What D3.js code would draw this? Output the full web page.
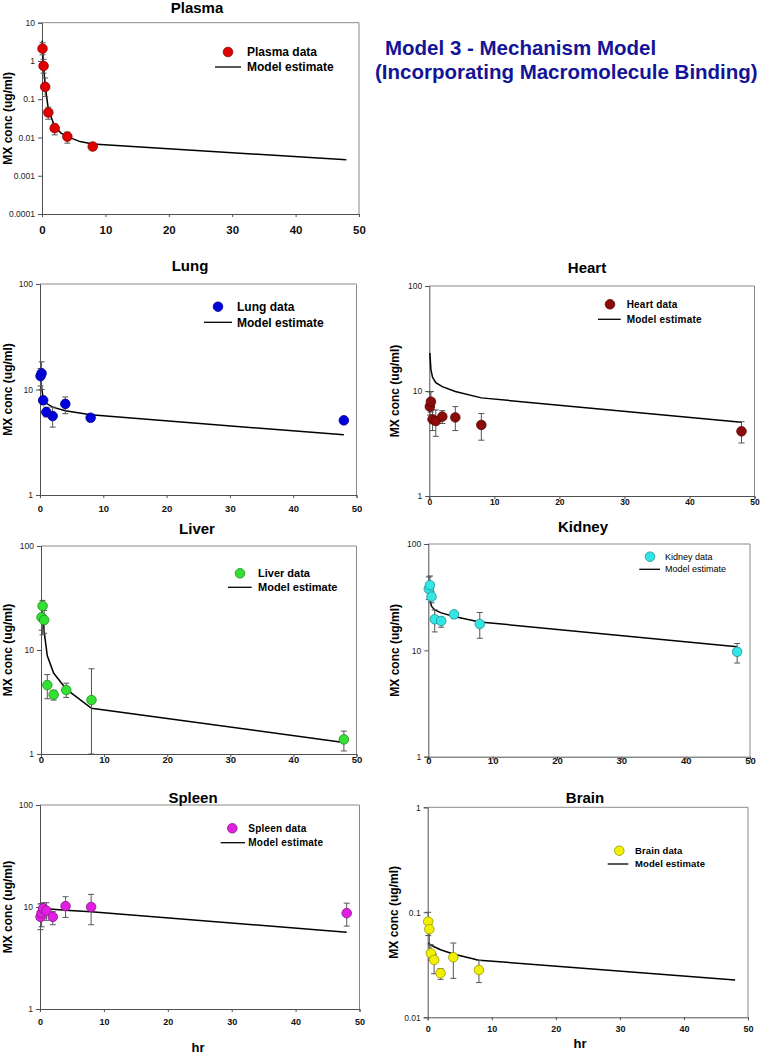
<!DOCTYPE html>
<html><head><meta charset="utf-8">
<script src="https://cdn.jsdelivr.net/npm/d3@7"></script>
<style>body{margin:0;background:#fff}svg{display:block;font-family:"Liberation Sans",Arial,sans-serif}</style>
</head><body><svg id="c" width="761" height="1056"></svg>
<script>
// ---------- DATA ----------
const times = [0.083, 0.25, 0.5, 1, 2, 4, 8, 48];
const xTicks = [0, 10, 20, 30, 40, 50];
const yLabel = "MX conc (ug/ml)";
const xLabel = "hr";
const mainTitle = ["Model 3 - Mechanism Model", "(Incorporating Macromolecule Binding)"];

const plasmaMean  = [2.1, 0.74, 0.21, 0.045, 0.0175, 0.0105, 0.0058];
const plasmaUpper = [3.0, 1.1, 0.36, 0.062, 0.0226, 0.0138, 0.0063];
const plasmaLower = [1.45, 0.48, 0.117, 0.030, 0.0117, 0.0071, 0.0053];
const plasmaModelT = [0.02, 0.083, 0.25, 0.5, 1, 2, 3, 4, 6, 8, 48];
const plasmaModel  = [3.4, 2.0, 0.75, 0.22, 0.055, 0.019, 0.013, 0.0105, 0.0078, 0.0068, 0.0026];

const lungMean  = [13.4, 14.2, 7.9, 6.1, 5.6, 7.3, 5.4, 5.1];
const lungUpper = [15.8, 18.3, 8.6, 6.8, 6.8, 8.5, 5.7, 5.4];
const lungLower = [10.8, 10.0, 7.2, 5.5, 4.4, 5.9, 5.1, 4.8];
const lungModel = [13.0, 10.5, 8.3, 7.4, 6.8, 6.3, 5.75, 3.72];

const heartMean  = [7.1, 7.9, 5.37, 5.18, 5.7, 5.6, 4.75, 4.13];
const heartUpper = [9.8, 9.9, 6.6, 6.6, 6.5, 7.1, 6.1, 5.1];
const heartLower = [5.9, 6.3, 4.2, 3.7, 4.9, 4.2, 3.4, 3.2];
const heartModel = [23.0, 16.0, 13.5, 12.0, 11.0, 9.9, 8.6, 5.03];

const liverMean  = [20.6, 26.5, 19.4, 4.6, 3.72, 4.12, 3.3, 1.38];
const liverUpper = [26.0, 30.0, 24.0, 5.8, 4.1, 4.8, 6.6, 1.66];
const liverLower = [15.5, 14.0, 14.5, 3.4, 3.3, 3.5, 1.0, 1.07];
const liverModel = [25.0, 22.0, 15.0, 8.8, 6.0, 4.2, 2.75, 1.29];

const kidneyMean  = [37.8, 41.0, 32.0, 19.6, 18.9, 21.8, 17.7, 9.7];
const kidneyUpper = [49.0, 50.0, 36.0, 24.0, 20.5, 23.0, 22.7, 11.6];
const kidneyLower = [30.0, 33.0, 28.0, 14.9, 16.5, 20.0, 13.0, 7.6];
const kidneyModel = [35.0, 30.0, 26.0, 24.0, 22.5, 20.8, 18.5, 10.8];

const spleenMean  = [8.0, 8.7, 9.7, 9.2, 8.0, 10.2, 10.0, 8.7];
const spleenUpper = [10.7, 10.8, 11.0, 11.0, 9.0, 12.6, 13.3, 10.9];
const spleenLower = [6.0, 6.4, 7.8, 7.4, 6.7, 7.9, 6.7, 6.5];
const spleenModel = [9.9, 9.8, 9.7, 9.6, 9.5, 9.3, 9.0, 5.65];

const brainMean  = [0.0815, 0.069, 0.0407, 0.0352, 0.0263, 0.0373, 0.0282];
const brainUpper = [0.1, 0.085, 0.049, 0.040, 0.029, 0.051, 0.035];
const brainLower = [0.06, 0.042, 0.035, 0.026, 0.023, 0.0235, 0.0214];
const brainModel = [0.051, 0.050, 0.049, 0.047, 0.044, 0.040, 0.035, 0.0227];

// ---------- LAYOUT ----------
const panels = [
  {name:"Plasma", color:"#e00000", mean:plasmaMean, up:plasmaUpper, lo:plasmaLower, mT:plasmaModelT, m:plasmaModel,
   yTicks:[0.0001,0.001,0.01,0.1,1,10],
   x0:42, x1:359, y0:22.7, y1:214, title:[197,12.5], xTickY:230, xTickFs:11.5, yLabX:8,
   leg:{mx:228,my:52,tx:247,ly:67,l1:215,l2:241,fs:12,w:"bold",ls:0}},
  {name:"Lung", color:"#0000dd", mean:lungMean, up:lungUpper, lo:lungLower, mT:times, m:lungModel,
   yTicks:[1,10,100], x0:40, x1:356.5, y0:284, y1:495, title:[190,271], xTickY:509, xTickFs:9.5, yLabX:8,
   leg:{mx:218,my:306.7,tx:237,ly:322.3,l1:204,l2:232,fs:12,w:"bold",ls:0}},
  {name:"Heart", color:"#8b0a0a", mean:heartMean, up:heartUpper, lo:heartLower, mT:times, m:heartModel,
   yTicks:[1,10,100], x0:429.3, x1:754.5, y0:286, y1:496, title:[587,273], xTickY:502, xTickFs:8.5, yLabX:395,
   leg:{mx:610,my:304.3,tx:626.7,ly:319.3,l1:598,l2:620.7,fs:10,w:"bold",ls:0.2}},
  {name:"Liver", color:"#33e033", mean:liverMean, up:liverUpper, lo:liverLower, mT:times, m:liverModel,
   yTicks:[1,10,100], x0:41, x1:356.5, y0:546, y1:754, title:[197,534], xTickY:760, xTickFs:9.5, yLabX:8,
   leg:{mx:240,my:573.3,tx:258,ly:587.3,l1:228,l2:251.7,fs:11,w:"bold",ls:0}},
  {name:"Kidney", color:"#33e6e6", mean:kidneyMean, up:kidneyUpper, lo:kidneyLower, mT:times, m:kidneyModel,
   yTicks:[1,10,100], x0:428.3, x1:750, y0:544, y1:756.7, title:[583,532], xTickY:761, xTickFs:9.5, yLabX:395,
   leg:{mx:650,my:556.7,tx:665,ly:569.3,l1:639.3,l2:660,fs:9,w:"normal",ls:0}},
  {name:"Spleen", color:"#e020e0", mean:spleenMean, up:spleenUpper, lo:spleenLower, mT:times, m:spleenModel,
   yTicks:[1,10,100], x0:40, x1:359.5, y0:805, y1:1009, title:[193,803], xTickY:1021.7, xTickFs:9, yLabX:8,
   xLab:[198,1047], leg:{mx:232.3,my:828.3,tx:248.3,ly:842.7,l1:220.7,l2:245,fs:10,w:"bold",ls:0.2}},
  {name:"Brain", color:"#f0f000", mean:brainMean, up:brainUpper, lo:brainLower, mT:times, m:brainModel,
   yTicks:[0.01,0.1,1], x0:427.7, x1:748, y0:807.3, y1:1017.3, title:[585,803], xTickY:1029, xTickFs:9, yLabX:394,
   xLab:[580,1043.5], leg:{mx:619.3,my:850.7,tx:635,ly:864,l1:607.7,l2:628.3,fs:9.5,w:"bold",ls:0.1}}
];

const svg = d3.select("#c");
svg.append("rect").attr("width",761).attr("height",1056).attr("fill","#fff");

// main title
svg.append("text").attr("x",385).attr("y",55).attr("fill","#141496").attr("font-size",20.5)
  .attr("font-weight","bold").text(mainTitle[0]);
svg.append("text").attr("x",375).attr("y",79).attr("fill","#141496").attr("font-size",20.5)
  .attr("font-weight","bold").text(mainTitle[1]);

const R = 4.8;
panels.forEach(p => {
  const g = svg.append("g");
  const x = d3.scaleLinear().domain([0,50]).range([p.x0,p.x1]);
  const y = d3.scaleLog().domain([p.yTicks[0], p.yTicks[p.yTicks.length-1]]).range([p.y1,p.y0]);
  const dark = d3.color(p.color).darker(1.3).formatHex();

  // frame (top/right grey)
  g.append("path").attr("d",`M${p.x0},${p.y0}H${p.x1}V${p.y1}`).attr("fill","none").attr("stroke","#8a8a8a").attr("stroke-width",1);

  // y axis
  const ya = d3.axisLeft(y).tickValues(p.yTicks).tickFormat(d=>String(+d.toPrecision(3))).tickSize(4).tickPadding(3);
  const yg = g.append("g").attr("transform",`translate(${p.x0},0)`).call(ya);
  yg.select(".domain").attr("stroke","#505050");
  yg.selectAll(".tick line").attr("stroke","#505050");
  yg.selectAll("text").attr("font-size",8.5).attr("fill","#222").attr("font-family","Liberation Sans, Arial, sans-serif");

  // x axis
  const xa = d3.axisBottom(x).tickValues(xTicks).tickSize(3).tickFormat(d3.format("d"));
  const xg = g.append("g").attr("transform",`translate(0,${p.y1})`).call(xa);
  xg.select(".domain").attr("stroke","#505050");
  xg.selectAll(".tick line").attr("stroke","#505050");
  xg.selectAll("text").attr("font-size",p.xTickFs).attr("font-weight","bold").attr("fill","#111")
    .attr("font-family","Liberation Sans, Arial, sans-serif")
    .attr("y", p.xTickY - p.y1).attr("dy","0.35em");

  // titles
  g.append("text").attr("x",p.title[0]).attr("y",p.title[1]).attr("text-anchor","middle")
    .attr("font-size",15).attr("font-weight","bold").attr("fill","#000").text(p.name);
  g.append("text").attr("transform",`translate(${p.yLabX},${(p.y0+p.y1)/2}) rotate(-90)`)
    .attr("text-anchor","middle").attr("dy","0.35em").attr("font-size",12).attr("font-weight","bold").text(yLabel);
  if (p.xLab) g.append("text").attr("x",p.xLab[0]).attr("y",p.xLab[1]).attr("text-anchor","middle")
    .attr("dy","0.35em").attr("font-size",13).attr("font-weight","bold").text(xLabel);

  // model line
  const md = p.mT.map((t,i)=>({t, v:p.m[i]}));
  g.append("path").datum(md).attr("fill","none").attr("stroke","#000").attr("stroke-width",1.5)
    .attr("d", d3.line().x(d=>x(d.t)).y(d=>y(d.v)));

  // data
  const dd = p.mean.map((v,i)=>({t:times[i], v, u:p.up[i], l:p.lo[i]}));
  const eb = g.append("g").attr("stroke","#555").attr("stroke-width",1);
  dd.forEach(d=>{
    const cx = x(d.t);
    eb.append("line").attr("x1",cx).attr("x2",cx).attr("y1",y(d.u)).attr("y2",y(d.l));
    eb.append("line").attr("x1",cx-3).attr("x2",cx+3).attr("y1",y(d.u)).attr("y2",y(d.u));
    eb.append("line").attr("x1",cx-3).attr("x2",cx+3).attr("y1",y(d.l)).attr("y2",y(d.l));
  });
  g.selectAll("circle.pt").data(dd).join("circle").attr("class","pt")
    .attr("cx",d=>x(d.t)).attr("cy",d=>y(d.v)).attr("r",R)
    .attr("fill",p.color).attr("stroke",dark).attr("stroke-width",0.8);

  // legend
  const L = p.leg;
  g.append("circle").attr("cx",L.mx).attr("cy",L.my).attr("r",R).attr("fill",p.color).attr("stroke",dark).attr("stroke-width",0.8);
  g.append("text").attr("x",L.tx).attr("y",L.my).attr("dy","0.35em").attr("font-size",L.fs).attr("font-weight",L.w)
    .attr("letter-spacing",L.ls).text(p.name + " data");
  g.append("line").attr("x1",L.l1).attr("x2",L.l2).attr("y1",L.ly).attr("y2",L.ly).attr("stroke","#000").attr("stroke-width",1.3);
  g.append("text").attr("x",L.tx).attr("y",L.ly).attr("dy","0.35em").attr("font-size",L.fs).attr("font-weight",L.w)
    .attr("letter-spacing",L.ls).text("Model estimate");
});
</script></body></html>
